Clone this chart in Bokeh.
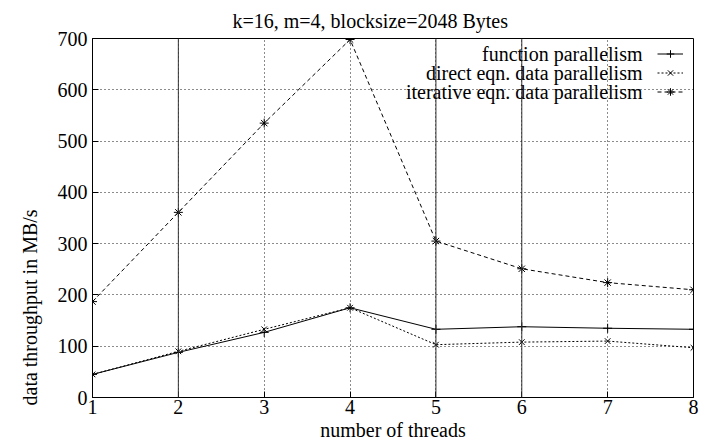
from bokeh.plotting import figure
from bokeh.models import (Range1d, FixedTicker, Label, Span, Legend, LegendItem, Title)
from bokeh.embed import file_html
from bokeh.resources import INLINE

# ---------------- data ----------------
threads = [1, 2, 3, 4, 5, 6, 7, 8]
function_par = [45, 88, 127, 175, 133, 138, 135, 133]
direct_par = [45, 90, 133, 175, 103, 108, 110, 97]
iterative_par = [187, 361, 535, 698, 305, 251, 224, 210]
series_names = ["function parallelism",
                "direct eqn. data parallelism",
                "iterative eqn. data parallelism"]
x_ticks = [1, 2, 3, 4, 5, 6, 7, 8]
y_ticks = [0, 100, 200, 300, 400, 500, 600, 700]
title_text = "k=16, m=4, blocksize=2048 Bytes"
x_label = "number of threads"
y_label = "data throughput in MB/s"

FONT = "Liberation Serif"
FS = "20px"

p = figure(width=713, height=445, x_range=Range1d(1, 8), y_range=Range1d(0, 700),
           output_backend="svg", toolbar_location=None,
           min_border_left=92, min_border_right=20, min_border_top=37,
           min_border_bottom=48, background_fill_color="white",
           border_fill_color="white")
p.outline_line_color = "black"
p.outline_line_width = 1

# title
p.title.text = title_text
p.title.align = "left"
p.title.offset = 140
p.title.standoff = 14
p.title.text_font = FONT
p.title.text_font_size = FS
p.title.text_font_style = "normal"
p.title.text_color = "black"

# axes
for ax in [p.xaxis[0], p.yaxis[0]]:
    ax.major_label_text_font = FONT
    ax.major_label_text_font_size = FS
    ax.major_label_text_color = "black"
    ax.major_tick_in = 6
    ax.major_tick_out = 0
    ax.minor_tick_line_color = None
    ax.axis_line_color = "black"
    ax.major_tick_line_color = "black"
    ax.axis_label_text_font = FONT
    ax.axis_label_text_font_size = FS
    ax.axis_label_text_font_style = "normal"
    ax.axis_label_text_color = "black"
p.xaxis[0].ticker = FixedTicker(ticks=x_ticks)
p.yaxis[0].ticker = FixedTicker(ticks=y_ticks)
p.xaxis[0].major_label_standoff = 2
p.yaxis[0].major_label_standoff = 5
p.xaxis[0].axis_label = x_label
p.xaxis[0].axis_label_standoff = 2

p.add_layout(Title(text=y_label, align="left", offset=-8, standoff=27,
                   text_font=FONT, text_font_size=FS, text_font_style="normal",
                   text_color="black"), "left")

# grid
p.xgrid.ticker = FixedTicker(ticks=x_ticks)
p.ygrid.ticker = FixedTicker(ticks=y_ticks)
for g in [p.xgrid[0], p.ygrid[0]]:
    g.grid_line_color = "black"
    g.grid_line_dash = "1 3"
    g.grid_line_width = 1
    g.grid_line_alpha = 0.9

solid_grid_x = [2, 5, 6]
for v in solid_grid_x:
    p.add_layout(Span(location=v, dimension="height", line_color="#333333",
                      line_width=1))

# series
r1 = p.line(threads, function_par, line_color="black", line_width=1)
s1 = p.scatter(threads, function_par, marker="cross", size=9, line_color="black",
               line_width=1)
r2 = p.line(threads, direct_par, line_color="black", line_width=1, line_dash="2 2")
s2 = p.scatter(threads, direct_par, marker="x", size=8, line_color="black",
               line_width=1)
r3 = p.line(threads, iterative_par, line_color="black", line_width=1, line_dash="4 3")
s3 = p.scatter(threads, iterative_par, marker="asterisk", size=9, line_color="black",
               line_width=1)

# legend samples (gnuplot style: text left of sample)
legend = Legend(items=[LegendItem(label="", renderers=[r1, s1]),
                       LegendItem(label="", renderers=[r2, s2]),
                       LegendItem(label="", renderers=[r3, s3])],
                location=(565, 296), padding=0, spacing=0, margin=0,
                glyph_width=26, glyph_height=19, label_height=19,
                label_standoff=0, label_text_font_size="8px",
                background_fill_alpha=0, border_line_alpha=0)
p.add_layout(legend, "center")

row_top = 344
row_step = 19
for i, name in enumerate(series_names):
    p.add_layout(Label(x=550, y=row_top - i * row_step, x_units="screen",
                       y_units="screen", text=name, text_align="right",
                       text_baseline="middle", text_font=FONT, text_font_size=FS,
                       text_color="black"))

open("out.html", "w").write(file_html(p, INLINE))
